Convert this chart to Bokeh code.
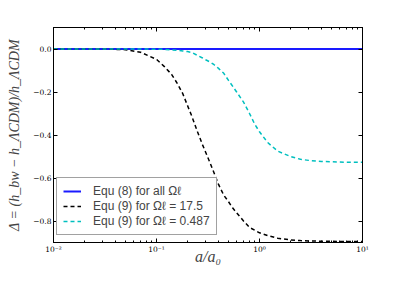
from bokeh.plotting import figure
from bokeh.models import (LinearAxis, LogAxis, FixedTicker, LogTicker, CustomJSTickFormatter,
                          Legend, LegendItem, Range1d)
from bokeh.embed import file_html
from bokeh.resources import INLINE

# ---- data ----
a_vals = [0.01, 0.03, 0.05, 0.07, 0.1, 0.12, 0.14, 0.16, 0.18, 0.2, 0.22, 0.25, 0.28, 0.3,
          0.33, 0.36, 0.4, 0.45, 0.5, 0.55, 0.6, 0.7, 0.8, 0.9, 1.0, 1.2, 1.5, 2.0, 2.5,
          3.0, 4.0, 6.0, 10.0]
eq8_all = [0.0] * len(a_vals)
eq9_17_5 = [0.0, 0.0, -0.003, -0.015, -0.048, -0.083, -0.118, -0.162, -0.208, -0.263, -0.312,
            -0.385, -0.446, -0.48, -0.528, -0.573, -0.63, -0.68, -0.71, -0.74, -0.762, -0.80,
            -0.83, -0.843, -0.855, -0.868, -0.88, -0.888, -0.891, -0.893, -0.894, -0.895, -0.895]
eq9_0_487 = [0.0, 0.0, 0.0, 0.0, -0.001, -0.002, -0.004, -0.006, -0.009, -0.012, -0.016,
             -0.03, -0.042, -0.05, -0.06, -0.072, -0.09, -0.113, -0.146, -0.174, -0.2, -0.247,
             -0.30, -0.35, -0.385, -0.435, -0.475, -0.50, -0.513, -0.518, -0.523, -0.526, -0.527]
labels = ["Equ (8) for all Ωℓ", "Equ (9) for Ωℓ = 17.5", "Equ (9) for Ωℓ = 0.487"]
y_ticks = [-0.8, -0.6, -0.4, -0.2, 0.0]

p = figure(width=389, height=267, x_axis_type="log",
           x_range=Range1d(0.01, 10), y_range=Range1d(-0.9, 0.1),
           output_backend="svg", toolbar_location=None,
           min_border_left=53, min_border_right=27, min_border_top=27, min_border_bottom=10)
p.xgrid.visible = False
p.ygrid.visible = False
p.outline_line_color = "black"
p.outline_line_width = 1

r1 = p.line(a_vals, eq8_all, line_color="#1a1aff", line_width=2)
r2 = p.line(a_vals, eq9_17_5, line_color="black", line_width=1.5, line_dash="4 3")
r3 = p.line(a_vals, eq9_0_487, line_color="#00bfbf", line_width=1.5, line_dash="4 3")

log_fmt = CustomJSTickFormatter(code="""
const e = Math.round(Math.log10(tick));
const sup = {'-':'\u207b','0':'\u2070','1':'\u00b9','2':'\u00b2','3':'\u00b3'};
return '10' + String(e).split('').map(c => sup[c]).join('');
""")
y_fmt = CustomJSTickFormatter(code="return tick.toFixed(1).replace('-', '\u2212');")
blank = CustomJSTickFormatter(code="return '';")

def style(ax):
    ax.major_tick_in = 4
    ax.major_tick_out = 0
    ax.minor_tick_in = 2
    ax.minor_tick_out = 0
    ax.axis_line_color = "black"
    ax.major_label_text_font = "DejaVu Serif"
    ax.major_label_text_font_size = "7.5px"
    ax.major_label_text_color = "black"
    ax.major_label_standoff = 2

xa = p.xaxis[0]
style(xa)
xa.ticker = LogTicker(num_minor_ticks=10)
xa.formatter = log_fmt
xa.axis_label = "a/a₀"
xa.axis_label_text_font = "Liberation Serif"
xa.axis_label_text_font_style = "italic"
xa.axis_label_text_font_size = "16px"
xa.axis_label_standoff = -9

ya = p.yaxis[0]
style(ya)
ya.ticker = FixedTicker(ticks=y_ticks)
ya.formatter = y_fmt
ya.axis_label = "Δ = (h_bw − h_ΛCDM)/h_ΛCDM"
ya.axis_label_text_font = "Liberation Serif"
ya.axis_label_text_font_style = "italic"
ya.axis_label_text_font_size = "14px"
ya.axis_label_standoff = 8

top = LogAxis(ticker=LogTicker(num_minor_ticks=10), formatter=blank)
style(top)
top.major_label_text_font_size = "0px"
top.major_label_standoff = 0
p.add_layout(top, "above")

right = LinearAxis(ticker=FixedTicker(ticks=y_ticks), formatter=blank)
style(right)
right.major_label_text_font_size = "0px"
right.major_label_standoff = 0
p.add_layout(right, "right")

legend = Legend(items=[LegendItem(label=labels[0], renderers=[r1]),
                       LegendItem(label=labels[1], renderers=[r2]),
                       LegendItem(label=labels[2], renderers=[r3])],
                location=(3, 7))
legend.border_line_color = "#444444"
legend.border_line_width = 1
legend.background_fill_alpha = 1
legend.label_text_font = "Liberation Sans"
legend.label_text_font_size = "12px"
legend.glyph_width = 18
legend.glyph_height = 12
legend.label_standoff = 12
legend.label_height = 13
legend.spacing = 1
legend.padding = 6
legend.margin = 0
p.add_layout(legend)

open("out.html", "w").write(file_html(p, INLINE))
